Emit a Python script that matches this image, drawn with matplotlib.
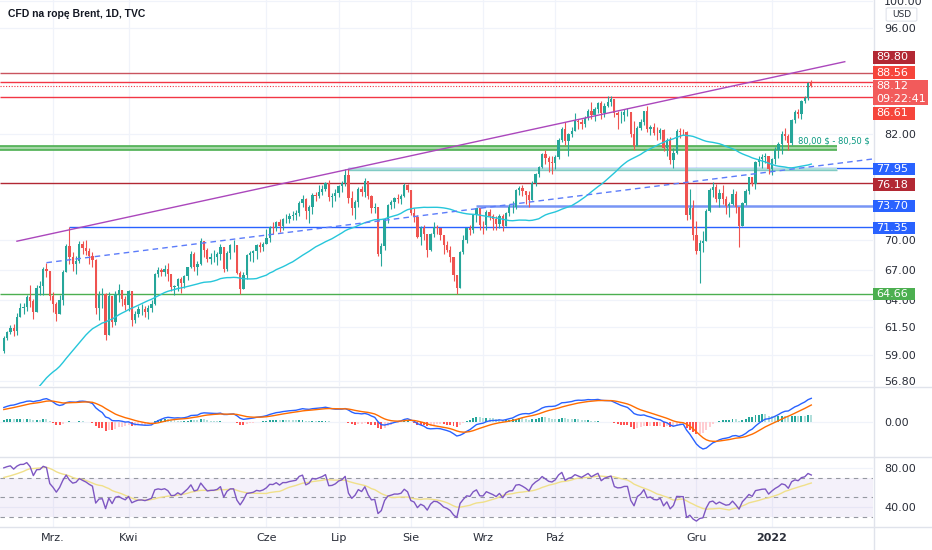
import numpy as np
import pandas as pd
import matplotlib
matplotlib.use('Agg')
import matplotlib.pyplot as plt
from matplotlib.lines import Line2D
from matplotlib.patches import Rectangle, FancyBboxPatch
from matplotlib.ticker import NullLocator

# closes before the visible range (Dec 2020 - Feb 5 2021), only used to warm up SMA / MACD / RSI
pre_close = [47.42, 48.25, 48.71, 49.25, 48.79, 48.84, 48.86, 50.25, 49.97, 50.29, 50.76, 51.08,
             51.50, 52.26, 50.91, 50.08, 51.20, 51.29, 50.86, 51.09, 51.34, 51.80,
             51.09, 53.60, 54.30, 54.38, 55.99, 55.66, 56.58, 56.06, 56.42, 55.10, 54.75, 55.90,
             56.08, 56.10, 55.41, 55.88, 55.91, 56.00, 55.53, 55.88,
             57.46, 58.46, 58.46, 58.84, 59.34]

# daily bars 2021-02-08 .. 2022-01-19 (Good Friday 2021-04-02 has no bar)
close = [
    60.56, 61.09, 61.47, 61.14, 62.43, 63.30, 63.35, 64.34, 63.93, 62.91, 65.24, 65.37, 67.04, 66.88, 64.42,
    63.69, 62.70, 64.07, 66.74, 69.36, 68.24, 67.52, 67.90, 69.63, 69.22, 68.88, 68.39, 68.00, 63.28, 64.53,
    64.62, 60.79, 64.41, 61.95, 64.57, 64.98, 64.14, 63.54,
    64.86, 62.15, 62.74, 63.16, 63.20, 62.95, 63.28, 63.67, 66.58, 66.94, 66.77, 67.05, 66.57, 65.32, 65.40,
    66.11, 65.65, 66.42, 67.27, 68.56, 67.25,
    67.56, 69.88, 68.96, 68.09, 68.28, 68.32, 68.55, 69.32, 67.05, 68.71, 69.46, 69.46, 66.66, 65.11, 66.44,
    68.46, 68.65, 68.87, 69.46, 69.32, 69.63,
    70.25, 71.35, 71.31, 71.89, 71.49, 72.22, 72.22, 72.52, 72.69, 72.86, 73.99, 74.39, 73.08, 73.51, 74.90,
    74.81, 75.19, 75.56, 76.18, 74.68, 74.76, 75.13,
    75.84, 76.17, 77.16, 74.53, 73.43, 74.12, 75.55, 75.16, 76.49, 74.76, 73.47, 73.59, 68.62, 69.35, 72.23,
    73.79, 74.10, 74.50, 74.48, 74.74, 76.05, 75.41,
    72.89, 72.41, 70.38, 71.29, 70.70, 69.04, 70.63, 71.44, 71.31, 70.59, 69.51, 69.03, 68.23, 66.45, 65.18,
    68.75, 70.05, 71.25, 71.07, 72.70, 73.41, 71.63,
    71.59, 73.03, 72.61, 72.22, 71.69, 72.60, 71.45, 72.92, 73.51, 73.60, 75.46, 75.67, 75.34, 74.92, 74.36,
    76.19, 77.25, 78.09, 79.53, 79.09, 78.64, 78.52,
    79.28, 81.26, 82.56, 81.08, 81.95, 82.39, 83.65, 83.42, 83.18, 84.00, 84.86, 84.33, 85.08, 85.82, 84.61,
    85.53, 85.99, 86.40, 84.58, 84.32, 84.38,
    84.71, 84.72, 81.99, 80.54, 82.74, 83.43, 84.78, 82.64, 82.87, 82.17, 82.05, 82.43, 80.28, 81.24, 78.89,
    79.70, 82.31, 82.25, 82.22, 72.72, 73.44, 70.57,
    68.87, 69.67, 69.88, 73.08, 75.44, 75.82, 74.42, 75.15, 74.39, 73.70, 73.88, 75.02, 73.52, 71.52, 73.98,
    75.29, 76.85, 76.14, 78.60, 78.94, 79.23, 79.32, 77.78,
    78.98, 80.00, 80.80, 81.99, 81.75, 80.87, 83.72, 84.67, 84.47, 86.06, 86.48, 88.45, 88.12]

high = [
    60.7, 61.2, 61.7, 61.8, 62.8, 63.8, 63.8, 64.5, 65.5, 64.1, 65.5, 65.9, 67.3, 67.7, 66.8,
    64.8, 63.9, 64.5, 67.0, 69.6, 71.4, 68.8, 68.4, 69.9, 69.9, 70.0, 69.2, 68.8, 68.1, 64.9,
    65.2, 64.7, 64.8, 64.2, 64.9, 65.6, 65.0, 64.4,
    65.0, 64.4, 63.0, 63.5, 63.7, 63.5, 63.6, 64.0, 66.7, 67.3, 67.2, 67.5, 67.7, 66.5, 65.5,
    66.2, 66.3, 66.5, 67.3, 68.9, 68.8,
    67.9, 70.2, 69.8, 69.2, 68.7, 69.0, 68.8, 69.6, 69.3, 68.9, 69.6, 70.0, 69.4, 66.9, 66.8,
    68.6, 68.9, 69.0, 69.6, 69.8, 69.8,
    71.2, 71.5, 71.9, 72.0, 72.3, 72.4, 72.8, 72.9, 73.1, 73.2, 74.2, 74.9, 74.5, 73.8, 75.1,
    75.2, 76.0, 76.0, 76.3, 76.6, 75.1, 75.6,
    76.0, 76.4, 77.8, 77.8, 75.3, 74.3, 75.8, 75.9, 76.8, 76.5, 74.9, 74.0, 73.6, 69.7, 72.3,
    73.9, 74.3, 74.6, 75.0, 75.0, 76.2, 76.1,
    75.3, 73.4, 72.7, 71.5, 71.6, 70.6, 70.8, 71.9, 71.6, 71.2, 70.5, 69.9, 69.4, 68.2, 66.3,
    68.9, 70.5, 71.3, 71.6, 72.8, 73.4, 73.4,
    72.0, 73.2, 73.3, 72.8, 72.6, 72.8, 72.8, 73.0, 73.9, 74.2, 75.6, 75.9, 76.0, 75.3, 75.3,
    76.4, 77.4, 78.2, 79.7, 80.1, 79.3, 79.3,
    79.5, 81.5, 82.8, 83.5, 82.1, 82.8, 84.6, 83.9, 83.9, 84.2, 85.1, 86.0, 85.4, 86.0, 86.1,
    85.9, 86.7, 86.7, 86.4, 84.8, 84.9,
    85.1, 85.2, 84.7, 83.6, 83.0, 83.9, 84.9, 85.5, 83.1, 83.4, 82.8, 82.7, 82.6, 81.5, 81.6,
    80.3, 82.6, 82.7, 82.6, 82.4, 75.5, 74.3,
    72.0, 70.0, 71.0, 73.3, 75.7, 76.3, 76.1, 75.6, 76.0, 74.8, 74.1, 75.6, 75.3, 73.4, 74.1,
    75.5, 76.9, 76.9, 78.8, 79.4, 79.6, 79.7, 79.4,
    79.1, 80.4, 81.0, 82.4, 82.7, 82.0, 83.9, 85.0, 85.1, 86.3, 86.7, 88.6, 88.9]

low = [
    59.2, 60.3, 60.9, 60.7, 60.8, 62.4, 62.7, 63.0, 63.4, 62.3, 62.9, 64.5, 64.5, 66.3, 64.0,
    62.9, 62.1, 62.7, 63.6, 66.8, 67.6, 66.9, 66.6, 67.7, 68.6, 68.5, 67.6, 67.3, 62.7, 62.2,
    63.3, 60.3, 60.8, 61.5, 61.7, 63.9, 63.5, 63.1,
    63.0, 61.6, 61.9, 62.4, 62.6, 62.4, 62.3, 62.9, 63.6, 66.3, 66.4, 66.4, 65.9, 64.9, 64.5,
    64.9, 64.7, 65.2, 66.0, 67.2, 66.9,
    66.5, 67.5, 68.3, 67.8, 67.6, 67.8, 67.5, 68.0, 66.8, 66.9, 68.1, 68.8, 66.6, 64.6, 65.1,
    66.1, 67.9, 67.8, 68.1, 68.8, 68.9,
    69.7, 69.8, 70.6, 71.0, 70.9, 71.1, 71.8, 71.8, 72.1, 72.1, 72.6, 73.5, 72.3, 71.8, 72.8,
    74.2, 74.5, 74.9, 75.3, 74.2, 73.5, 74.2,
    74.6, 75.2, 75.9, 74.0, 72.7, 72.3, 73.6, 74.8, 74.7, 74.4, 72.9, 72.9, 68.4, 67.4, 69.0,
    71.8, 73.3, 73.4, 74.0, 73.9, 74.6, 75.2,
    72.7, 71.9, 70.2, 69.5, 70.0, 68.3, 68.9, 70.3, 70.6, 70.0, 68.6, 68.8, 67.8, 65.9, 64.6,
    65.2, 68.6, 69.7, 70.5, 70.8, 71.9, 71.1,
    70.6, 71.1, 72.1, 71.1, 71.1, 71.3, 71.0, 71.5, 72.6, 72.9, 73.3, 74.9, 74.8, 73.9, 73.6,
    74.6, 75.9, 76.9, 78.0, 78.4, 77.5, 77.2,
    77.8, 79.0, 81.0, 80.7, 79.4, 81.6, 82.3, 82.6, 82.6, 82.8, 83.7, 83.8, 83.6, 84.6, 83.8,
    84.1, 85.3, 85.5, 84.1, 82.6, 83.3,
    83.6, 84.2, 81.6, 80.1, 80.7, 82.5, 83.1, 82.2, 81.9, 81.9, 81.2, 81.4, 79.9, 79.3, 78.4,
    78.0, 79.6, 81.5, 81.9, 72.1, 72.3, 70.0,
    68.6, 65.7, 68.8, 70.5, 73.0, 74.7, 74.1, 73.6, 73.9, 72.8, 72.5, 73.8, 72.9, 69.3, 71.5,
    73.8, 75.0, 75.9, 75.5, 78.2, 77.9, 78.5, 77.2,
    77.1, 78.4, 79.1, 79.6, 81.2, 80.0, 80.7, 83.3, 84.0, 83.8, 85.8, 86.3, 87.9]

month_names = {3: 'Mrz.', 4: 'Kwi', 6: 'Cze', 7: 'Lip', 8: 'Sie', 9: 'Wrz', 10: 'Paź', 12: 'Gru', 1: '2022'}

# price levels: (price, colour, first bar, width)
levels = [(89.80, '#c9545f', None, 1.0), (88.56, '#f23645', None, 1.0), (86.61, '#f23645', None, 1.0),
          (76.18, '#b22833', None, 1.0), (77.95, '#2962ff', 105, 1.0), (73.70, '#7895f5', 144, 1.8),
          (71.35, '#2962ff', 20, 1.0), (64.66, '#4caf50', None, 1.0)]
zone_green = (80.0, 80.5)
zone_teal = (77.72, 77.95, 105)
zone_end = 253.8
last_price = 88.12
trend_up = ([4.0, 256.2], [69.9, 91.3])
trend_dash = ([13.0, 264.8], [67.7, 79.0])
price_ticks = [100, 96, 82, 70, 67, 64, 61.5, 59, 56.8]

dates = pd.bdate_range('2021-02-08', '2022-01-19')
dates = dates[dates != pd.Timestamp('2021-04-02')]

close = np.array(close)
high = np.array(high)
low = np.array(low)
n = len(close)
open_ = np.r_[pre_close[-1], close[:-1]]
high = np.maximum(high, np.maximum(open_, close))
low = np.minimum(low, np.minimum(open_, close))

# indicators on the whole history
full = pd.Series(pre_close + list(close))
sma50 = full.rolling(50).mean().values[-n:]
ema12 = full.ewm(span=12, adjust=False).mean()
ema26 = full.ewm(span=26, adjust=False).mean()
macd = ema12 - ema26
signal = macd.ewm(span=9, adjust=False).mean()
hist = (macd - signal).values
delta = full.diff()
gain = delta.clip(lower=0).ewm(alpha=1 / 14, adjust=False).mean()
loss = (-delta.clip(upper=0)).ewm(alpha=1 / 14, adjust=False).mean()
rsi = 100 - 100 / (1 + gain / loss)
rsi_ma = rsi.rolling(14).mean()
macd = macd.values[-n:]
signal = signal.values[-n:]
rsi = rsi.values[-n:]
rsi_ma = rsi_ma.values[-n:]
hist_prev = hist[-n - 1:-1]
hist = hist[-n:]

W, H = 932, 550
fig = plt.figure(figsize=(W / 100, H / 100), dpi=100)
fig.patch.set_facecolor('white')


def fx(px):
    return px / W


def fy(py):
    return 1 - py / H


ax = fig.add_axes([0, fy(386), fx(873), 386 / H])
axm = fig.add_axes([0, fy(457), fx(873), 70 / H], sharex=ax)
axr = fig.add_axes([0, fy(527), fx(873), 70 / H], sharex=ax)

x = np.arange(n)
xl = (-1.16, 264.8)
tick_idx, tick_lab = [], []
for i in range(1, n):
    if dates[i].month != dates[i - 1].month and dates[i].month in month_names:
        tick_idx.append(i)
        tick_lab.append(month_names[dates[i].month])

for a in (ax, axm, axr):
    for s in a.spines.values():
        s.set_visible(False)
    a.set_xlim(*xl)
    a.yaxis.tick_right()
    a.tick_params(axis='y', length=0, pad=8, labelsize=8, labelcolor='#2a2e39')
    a.tick_params(axis='x', length=0)
    a.set_xticks(tick_idx)
    a.grid(True, color='#f0f3fa', lw=0.9)
    a.set_axisbelow(True)

# main price panel
ax.set_yscale('log')
ax.set_ylim(56.35, 100.08)
ax.yaxis.set_minor_locator(NullLocator())
ax.set_yticks(price_ticks, ['%.2f' % t for t in price_ticks])
ax.tick_params(axis='x', labelbottom=False)

up = close >= open_
col = np.where(up, '#26a69a', '#ef5350')
ax.vlines(x, low, high, colors=col, lw=0.8, zorder=3)
ax.bar(x, np.maximum(np.abs(close - open_), 0.04), bottom=np.minimum(open_, close), width=0.7,
       color=col, lw=0, zorder=3)
ax.plot(x, sma50, color='#26c6da', lw=1.0, zorder=4)

for price, c, start, lw in levels:
    ax.hlines(price, xl[0] if start is None else start, xl[1], colors=c, lw=lw, zorder=2)
ax.hlines(last_price, xl[0], xl[1], colors='#f23645', lw=0.8, linestyles=(0, (1, 1.5)), zorder=2)
ax.fill_between([xl[0], zone_end], zone_green[0], zone_green[1], color='#a5d6a7', lw=0, zorder=2)
ax.hlines(zone_green, xl[0], zone_end, colors='#4caf50', lw=1.2, zorder=2)
ax.fill_between([zone_teal[2], zone_end], zone_teal[0], zone_teal[1], color='#b2dfdb', lw=0, zorder=2)
ax.hlines(zone_teal[0], zone_teal[2], zone_end, colors='#80cbc4', lw=1.0, zorder=2)
ax.plot(*trend_up, color='#ab47bc', lw=1.0, zorder=4)
ax.plot(*trend_dash, color='#5c7cfa', lw=1.0, ls=(0, (4, 3)), zorder=4)

# MACD panel
hcol = np.where(hist >= 0, np.where(hist > hist_prev, '#26a69a', '#b2dfdb'),
                np.where(hist < hist_prev, '#ff5252', '#ffcdd2'))
axm.bar(x, hist, width=0.6, color=hcol, lw=0, zorder=2)
axm.plot(x, macd, color='#2962ff', lw=1.0, zorder=3)
axm.plot(x, signal, color='#ff6d00', lw=1.0, zorder=3)
lim = np.nanmax(np.abs(np.r_[macd, signal])) * 35 / 27
axm.set_ylim(-lim, lim)
axm.set_yticks([0], ['0.00'])
axm.tick_params(axis='x', labelbottom=False)

# RSI panel
axr.set_ylim(19.7, 91.5)
axr.axhspan(30, 70, color='#7e57c2', alpha=0.08, lw=0)
for v in (70, 50, 30):
    axr.axhline(v, color='#9598a1', lw=0.8, ls=(0, (4, 4)))
axr.plot(x, rsi_ma, color='#f0e08a', lw=1.0)
axr.plot(x, rsi, color='#7e57c2', lw=1.0)
axr.set_yticks([80, 40], ['80.00', '40.00'])
axr.set_xticklabels(tick_lab)
axr.tick_params(axis='x', pad=4, labelsize=8, labelcolor='#2a2e39')
for lab in axr.get_xticklabels():
    if lab.get_text() == '2022':
        lab.set_fontweight('bold')

# separators
for py in (386.5, 457, 527):
    fig.add_artist(Line2D([0, 1], [fy(py)] * 2, color='#e0e3eb', lw=1))
fig.add_artist(Line2D([fx(873.5)] * 2, [0, 1], color='#e0e3eb', lw=1))


def tag(py0, py1, lines, color, right=915):
    fig.add_artist(Rectangle((fx(873), fy(py1)), fx(right) - fx(873), (py1 - py0) / H,
                             fc=color, ec='none', zorder=5))
    step = (py1 - py0) / len(lines)
    for k, t in enumerate(lines):
        fig.text(fx(876), fy(py0 + step * (k + 0.5)), t, color='white', fontsize=8,
                 ha='left', va='center', zorder=6)


tag(51, 64, ['89.80'], '#b22833')
tag(66, 79, ['88.56'], '#f6453b')
tag(80, 105, ['88.12', '09:22:41'], '#f25b5b', right=928)
tag(107, 120, ['86.61'], '#f6453b')
tag(163, 175, ['77.95'], '#2962ff')
tag(178, 191, ['76.18'], '#b22833')
tag(200, 212, ['73.70'], '#2962ff')
tag(222, 234, ['71.35'], '#2962ff')
tag(288, 300, ['64.66'], '#4caf50')

fig.add_artist(FancyBboxPatch((fx(888), fy(20)), fx(27), 11 / H, boxstyle='round,pad=0.002',
                              fc='white', ec='#e0e3eb', lw=0.8, zorder=5))
fig.text(fx(901.5), fy(14.5), 'USD', fontsize=6.5, color='#2a2e39', ha='center', va='center', zorder=6)

fig.text(fx(798), fy(141), r'80,00 \$ - 80,50 \$', fontsize=6, color='#089981', ha='left', va='center')
fig.text(fx(8), fy(14), 'CFD na ropę Brent, 1D, TVC', fontsize=7.5, fontweight='bold',
         family=['Liberation Sans', 'DejaVu Sans'], color='#131722', ha='left', va='center')

fig.savefig('out.png', dpi=100, facecolor='white')
